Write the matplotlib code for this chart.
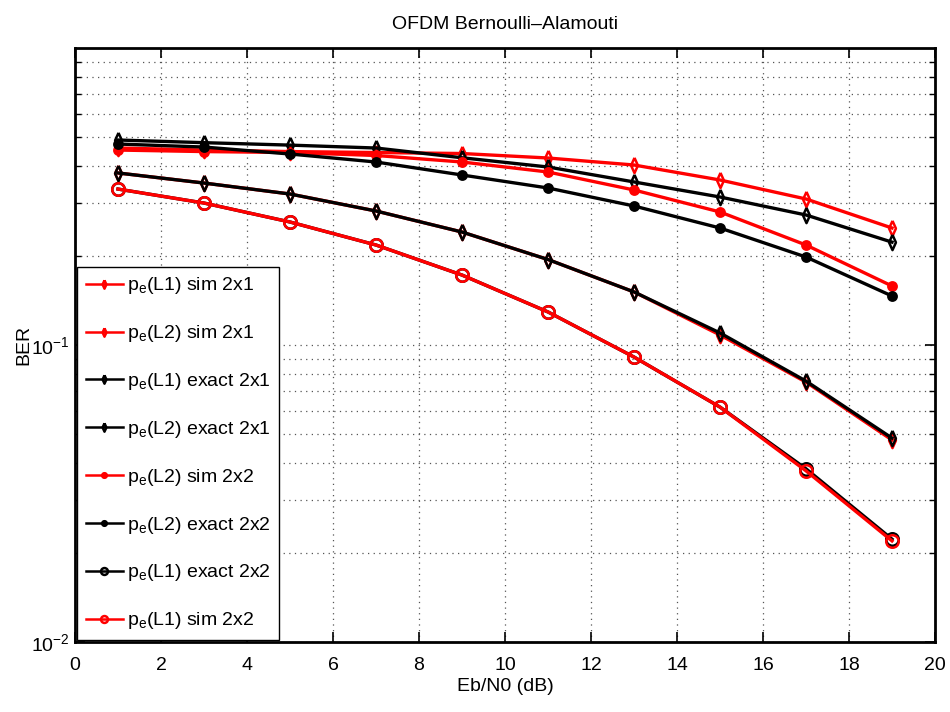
import matplotlib
matplotlib.use("Agg")
import matplotlib.pyplot as plt
from matplotlib.ticker import LogLocator, NullFormatter, FixedLocator

plt.rcParams['font.family'] = ['Liberation Sans', 'DejaVu Sans']
plt.rcParams['mathtext.fontset'] = 'custom'
plt.rcParams['mathtext.rm'] = 'Liberation Sans'
plt.rcParams['mathtext.it'] = 'Liberation Sans'

ebn0 = [1, 3, 5, 7, 9, 11, 13, 15, 17, 19]

l1_sim_2x1 = [0.3795, 0.351, 0.3224, 0.2826, 0.2401, 0.194, 0.1509, 0.1081, 0.0750, 0.0479]
l2_sim_2x1 = [0.4605, 0.4533, 0.448, 0.4447, 0.4413, 0.4262, 0.4037, 0.3594, 0.3102, 0.2477]
l1_exact_2x1 = [0.3795, 0.351, 0.3224, 0.2826, 0.2401, 0.194, 0.1509, 0.1098, 0.0756, 0.0486]
l2_exact_2x1 = [0.490, 0.480, 0.471, 0.4605, 0.427, 0.3975, 0.354, 0.315, 0.274, 0.222]
l2_sim_2x2 = [0.4533, 0.448, 0.4447, 0.4346, 0.4132, 0.3824, 0.3326, 0.2805, 0.2171, 0.158]
l2_exact_2x2 = [0.475, 0.464, 0.4396, 0.4132, 0.3736, 0.3378, 0.2938, 0.2477, 0.1978, 0.1462]
l1_exact_2x2 = [0.335, 0.3006, 0.2595, 0.2171, 0.1720, 0.1292, 0.0911, 0.0618, 0.0383, 0.0222]
l1_sim_2x2 = [0.335, 0.3006, 0.2595, 0.2171, 0.1720, 0.1292, 0.0911, 0.0618, 0.0377, 0.0219]

labels = [r'p$_\mathregular{e}$(L1) sim 2x1', r'p$_\mathregular{e}$(L2) sim 2x1',
          r'p$_\mathregular{e}$(L1) exact 2x1', r'p$_\mathregular{e}$(L2) exact 2x1',
          r'p$_\mathregular{e}$(L2) sim 2x2', r'p$_\mathregular{e}$(L2) exact 2x2',
          r'p$_\mathregular{e}$(L1) exact 2x2', r'p$_\mathregular{e}$(L1) sim 2x2']

fig = plt.figure(figsize=(9.5, 7.12), dpi=100)
ax = fig.add_axes([75/950, 1-642/712, 860/950, 594/712])

lw = 2.4
series = [
    (l1_sim_2x1, 'red', 'd', 'none', 11),
    (l2_sim_2x1, 'red', 'd', 'none', 11),
    (l1_exact_2x1, 'black', 'd', 'none', 11),
    (l2_exact_2x1, 'black', 'd', 'none', 11),
    (l2_sim_2x2, 'red', 'o', 'red', 6),
    (l2_exact_2x2, 'black', 'o', 'black', 6),
    (l1_exact_2x2, 'black', 'o', 'none', 9),
    (l1_sim_2x2, 'red', 'o', 'none', 9),
]
thin_d = [(0, 1), (0.45, 0), (0, -1), (-0.45, 0), (0, 1)]
for (vals, col, mk, mfc, ms), lab in zip(series, labels):
    m = thin_d if mk == 'd' else mk
    ax.semilogy(ebn0, vals, color=col, marker=m, mfc=mfc, mec=col, ms=ms,
                mew=1.8, lw=lw, label=lab)

ax.set_xlim(0, 20)
ax.set_ylim(0.01, 1)
ax.set_xticks(range(0, 21, 2))
ax.yaxis.set_major_locator(FixedLocator([0.01, 0.1]))
ax.yaxis.set_minor_locator(LogLocator(base=10, subs=range(2, 10)))
ax.yaxis.set_minor_formatter(NullFormatter())

gkw = dict(color='#555555', linestyle=(0, (1, 3.5)), linewidth=0.9)
ax.grid(True, which='major', axis='both', **gkw)
ax.grid(True, which='minor', axis='y', **gkw)

ax.tick_params(which='both', direction='in', top=True, right=True, labelsize=14)
ax.tick_params(which='major', length=7, width=1.2)
ax.tick_params(axis='x', which='major', pad=11)
ax.tick_params(which='minor', length=4, width=1.0)
for s in ax.spines.values():
    s.set_linewidth(2.0)

ax.set_title('OFDM Bernoulli\u2013Alamouti', fontsize=14, pad=14)
ax.set_xlabel('Eb/N0 (dB)', fontsize=14, labelpad=3)
ax.set_ylabel('BER', fontsize=14, labelpad=-1)

leg = ax.legend(loc='lower left', fontsize=14, markerscale=0.55, handlelength=1.9,
                handletextpad=0.2, labelspacing=1.38, borderaxespad=0.1,
                fancybox=False, framealpha=1, edgecolor='black', borderpad=0.45)
leg.get_frame().set_linewidth(1.0)
for h in leg.get_lines():
    h.set_linewidth(1.8)

fig.savefig('out.png', dpi=100)
